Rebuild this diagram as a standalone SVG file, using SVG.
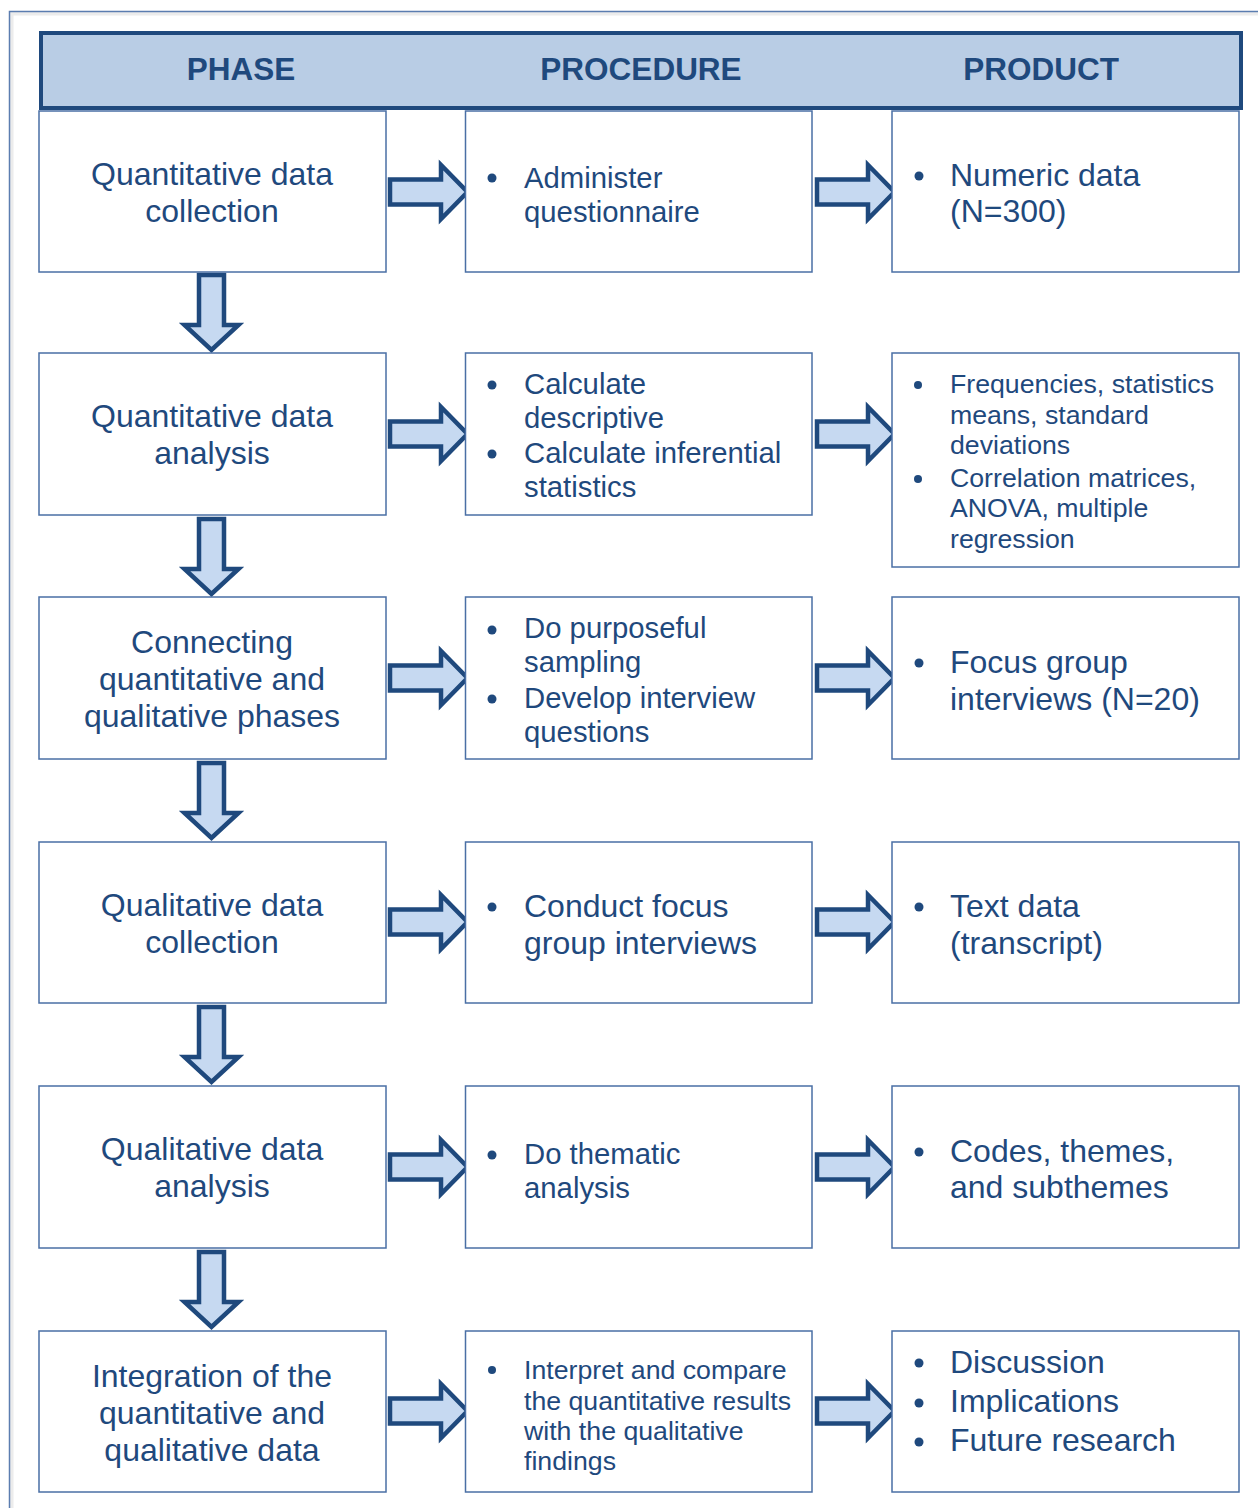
<svg xmlns="http://www.w3.org/2000/svg" width="1258" height="1508" viewBox="0 0 1258 1508">
<defs>
<style>
.box{fill:#fff;stroke:#4a6fa5;stroke-width:1.5}
.t{font-family:"Liberation Sans",Arial,sans-serif;fill:#1f497d}
.c{text-anchor:middle}
.L{font-size:32px}
.M{font-size:29.3px}
.S{font-size:26.7px}
.h{font-size:31.5px;font-weight:bold;text-anchor:middle}
.b{fill:#1f497d}
.arr{fill:#c6d9f1;stroke:#1f497d;stroke-width:4.5;stroke-linejoin:miter}
</style>
<polygon id="ra" class="arr" points="0,-12.5 51,-12.5 51,-27 77.5,0 51,27 51,12.5 0,12.5"/>
<polygon id="da" class="arr" points="-12.5,4 12.5,4 12.5,54 27,54 0,79 -27,54 -12.5,54"/>
</defs>
<rect width="1258" height="1508" fill="#fff"/>
<rect x="11.5" y="13.5" width="1300" height="1600" fill="none" stroke="#ececec" stroke-width="4"/>
<rect x="9.5" y="11.5" width="1300" height="1600" fill="none" stroke="#5b7db0" stroke-width="1.5"/>

<g id="header">
<rect x="41" y="33" width="1200" height="75" fill="#b9cde5" stroke="#1f497d" stroke-width="4"/>
<text class="t h" x="241" y="80">PHASE</text>
<text class="t h" x="641" y="80">PROCEDURE</text>
<text class="t h" x="1041" y="80">PRODUCT</text>
</g>

<g id="connectors">
<use href="#ra" x="390" y="192"/><use href="#ra" x="817" y="192"/>
<use href="#ra" x="390" y="434"/><use href="#ra" x="817" y="434"/>
<use href="#ra" x="390" y="678"/><use href="#ra" x="817" y="678"/>
<use href="#ra" x="390" y="922"/><use href="#ra" x="817" y="922"/>
<use href="#ra" x="390" y="1167"/><use href="#ra" x="817" y="1167"/>
<use href="#ra" x="390" y="1411"/><use href="#ra" x="817" y="1411"/>
<use href="#da" x="211.5" y="271"/>
<use href="#da" x="211.5" y="515"/>
<use href="#da" x="211.5" y="759"/>
<use href="#da" x="211.5" y="1003"/>
<use href="#da" x="211.5" y="1248"/>
</g>

<!-- Row 1 -->
<g id="phase1"><rect class="box" x="39" y="111" width="347" height="161"/>
<text class="t c L" x="212" y="185">Quantitative data</text>
<text class="t c L" x="212" y="222">collection</text></g>
<g id="proc1"><rect class="box" x="465.5" y="111" width="346.5" height="161"/>
<circle class="b" cx="492" cy="178" r="4.5"/>
<text class="t M" x="524" y="188">Administer</text>
<text class="t M" x="524" y="222">questionnaire</text></g>
<g id="prod1"><rect class="box" x="892" y="111" width="347" height="161"/>
<circle class="b" cx="919" cy="176" r="4.5"/>
<text class="t L" x="950" y="186">Numeric data</text>
<text class="t L" x="950" y="222">(N=300)</text></g>

<!-- Row 2 -->
<g id="phase2"><rect class="box" x="39" y="353" width="347" height="162"/>
<text class="t c L" x="212" y="427">Quantitative data</text>
<text class="t c L" x="212" y="464">analysis</text></g>
<g id="proc2"><rect class="box" x="465.5" y="353" width="346.5" height="162"/>
<circle class="b" cx="492" cy="385" r="4.5"/>
<text class="t M" x="524" y="394">Calculate</text>
<text class="t M" x="524" y="428">descriptive</text>
<circle class="b" cx="492" cy="454" r="4.5"/>
<text class="t M" x="524" y="463">Calculate inferential</text>
<text class="t M" x="524" y="497">statistics</text></g>
<g id="prod2"><rect class="box" x="892" y="353" width="347" height="214"/>
<circle class="b" cx="918" cy="385" r="4"/>
<text class="t S" x="950" y="393">Frequencies, statistics</text>
<text class="t S" x="950" y="424">means, standard</text>
<text class="t S" x="950" y="454">deviations</text>
<circle class="b" cx="918" cy="479" r="4"/>
<text class="t S" x="950" y="487">Correlation matrices,</text>
<text class="t S" x="950" y="517">ANOVA, multiple</text>
<text class="t S" x="950" y="548">regression</text></g>

<!-- Row 3 -->
<g id="phase3"><rect class="box" x="39" y="597" width="347" height="162"/>
<text class="t c L" x="212" y="653">Connecting</text>
<text class="t c L" x="212" y="690">quantitative and</text>
<text class="t c L" x="212" y="727">qualitative phases</text></g>
<g id="proc3"><rect class="box" x="465.5" y="597" width="346.5" height="162"/>
<circle class="b" cx="492" cy="630" r="4.5"/>
<text class="t M" x="524" y="638">Do purposeful</text>
<text class="t M" x="524" y="672">sampling</text>
<circle class="b" cx="492" cy="699" r="4.5"/>
<text class="t M" x="524" y="708">Develop interview</text>
<text class="t M" x="524" y="742">questions</text></g>
<g id="prod3"><rect class="box" x="892" y="597" width="347" height="162"/>
<circle class="b" cx="919" cy="663" r="4.5"/>
<text class="t L" x="950" y="673">Focus group</text>
<text class="t L" x="950" y="710">interviews (N=20)</text></g>

<!-- Row 4 -->
<g id="phase4"><rect class="box" x="39" y="842" width="347" height="161"/>
<text class="t c L" x="212" y="916">Qualitative data</text>
<text class="t c L" x="212" y="953">collection</text></g>
<g id="proc4"><rect class="box" x="465.5" y="842" width="346.5" height="161"/>
<circle class="b" cx="492" cy="907" r="4.5"/>
<text class="t L" x="524" y="917">Conduct focus</text>
<text class="t L" x="524" y="954">group interviews</text></g>
<g id="prod4"><rect class="box" x="892" y="842" width="347" height="161"/>
<circle class="b" cx="919" cy="907" r="4.5"/>
<text class="t L" x="950" y="917">Text data</text>
<text class="t L" x="950" y="954">(transcript)</text></g>

<!-- Row 5 -->
<g id="phase5"><rect class="box" x="39" y="1086" width="347" height="162"/>
<text class="t c L" x="212" y="1160">Qualitative data</text>
<text class="t c L" x="212" y="1197">analysis</text></g>
<g id="proc5"><rect class="box" x="465.5" y="1086" width="346.5" height="162"/>
<circle class="b" cx="492" cy="1155" r="4.5"/>
<text class="t M" x="524" y="1164">Do thematic</text>
<text class="t M" x="524" y="1198">analysis</text></g>
<g id="prod5"><rect class="box" x="892" y="1086" width="347" height="162"/>
<circle class="b" cx="919" cy="1152" r="4.5"/>
<text class="t L" x="950" y="1162">Codes, themes,</text>
<text class="t L" x="950" y="1198">and subthemes</text></g>

<!-- Row 6 -->
<g id="phase6"><rect class="box" x="39" y="1331" width="347" height="161"/>
<text class="t c L" x="212" y="1387">Integration of the</text>
<text class="t c L" x="212" y="1424">quantitative and</text>
<text class="t c L" x="212" y="1461">qualitative data</text></g>
<g id="proc6"><rect class="box" x="465.5" y="1331" width="346.5" height="161"/>
<circle class="b" cx="492" cy="1370" r="4"/>
<text class="t S" x="524" y="1379">Interpret and compare</text>
<text class="t S" x="524" y="1410">the quantitative results</text>
<text class="t S" x="524" y="1440">with the qualitative</text>
<text class="t S" x="524" y="1470">findings</text></g>
<g id="prod6"><rect class="box" x="892" y="1331" width="347" height="161"/>
<circle class="b" cx="919" cy="1363" r="4.5"/>
<text class="t L" x="950" y="1373">Discussion</text>
<circle class="b" cx="919" cy="1403" r="4.5"/>
<text class="t L" x="950" y="1412">Implications</text>
<circle class="b" cx="919" cy="1442" r="4.5"/>
<text class="t L" x="950" y="1451">Future research</text></g>
</svg>
